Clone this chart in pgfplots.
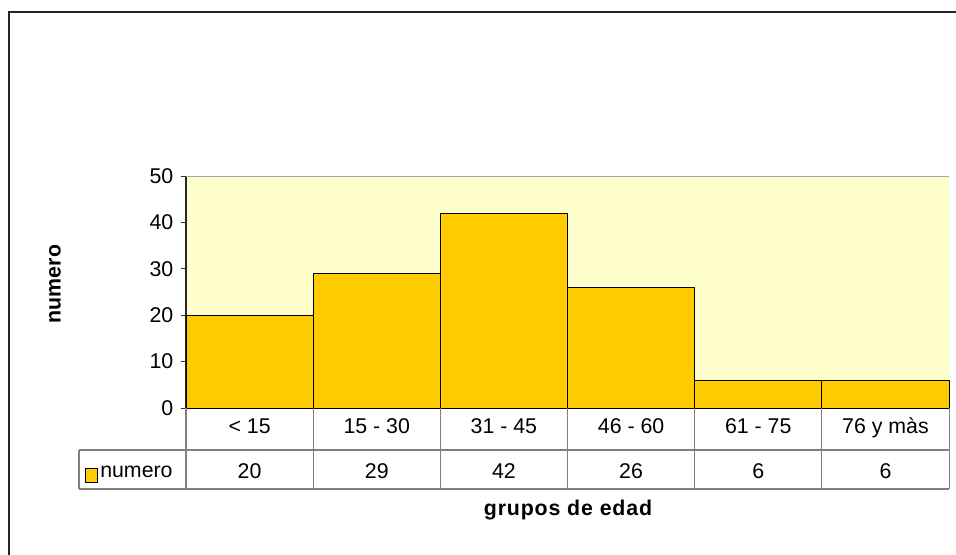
\documentclass[border=0pt]{standalone}
\usepackage{fontspec}
\setmainfont{Liberation Sans}
\usepackage{pgfplots}
\pgfplotsset{compat=1.18}
\definecolor{bgc}{HTML}{FFFFCC}
\definecolor{barc}{HTML}{FFCC00}
\definecolor{gridc}{HTML}{808080}
\begin{document}
\fontsize{16}{19}\selectfont
\begin{tikzpicture}[x=0.75pt,y=0.75pt]
\useasboundingbox (0,0) rectangle (956,554);
\draw[line width=1.5pt, black!85] (9,-5) -- (9,542) -- (962,542);
\begin{axis}[
  at={(139.5pt,109.5pt)}, anchor=south west,
  scale only axis, width=572.25pt, height=174pt,
  xmin=-0.5, xmax=5.5, ymin=0, ymax=50,
  axis x line*=bottom, axis y line*=left,
  x axis line style={line width=1.5pt, black},
  y axis line style={line width=1pt, black!85},
  xtick=\empty, ytick={0,10,...,50},
  tick align=outside, major tick length=4pt,
  y tick style={black!80, line width=0.75pt},
  yticklabel style={font=\fontsize{16}{19}\selectfont, /pgf/number format/assume math mode=true},
  axis background/.style={fill=bgc},
  clip=false,
]
\addplot[ybar, bar width=1, fill=barc, draw=black, line width=0.75pt] coordinates {(0,20) (1,29) (2,42) (3,26) (4,6) (5,6)};
\draw[gridc!70, line width=0.6pt] (axis cs:-0.5,50) -- (axis cs:5.5,50);
\end{axis}
\begin{scope}[gridc, line width=0.8pt]
\draw (79,104) -- (949,104);
\draw (79,65) -- (949,65);
\draw (79,104) -- (79,65);
\foreach \k in {0,...,6} \draw (186+127.17*\k,146) -- (186+127.17*\k,65);
\end{scope}
\foreach \c [count=\i from 0] in {{< 15},{15 - 30},{31 - 45},{46 - 60},{61 - 75},{76 y màs}}
  \node[anchor=base, inner sep=0pt] at (186+127.17*\i+63.58,121) {\c};
\foreach \v [count=\i from 0] in {20,29,42,26,6,6}
  \node[anchor=base, inner sep=0pt] at (186+127.17*\i+63.58,76) {\v};
\draw[fill=barc, draw=black, line width=0.6pt] (85,72) rectangle (97,86);
\node[anchor=base west, inner sep=0pt] at (100,77) {numero};
\node[rotate=90, font=\bfseries] at (55,270) {numero};
\node[font=\bfseries] at (568,44) {\addfontfeature{LetterSpace=4}grupos de edad};
\end{tikzpicture}
\end{document}
